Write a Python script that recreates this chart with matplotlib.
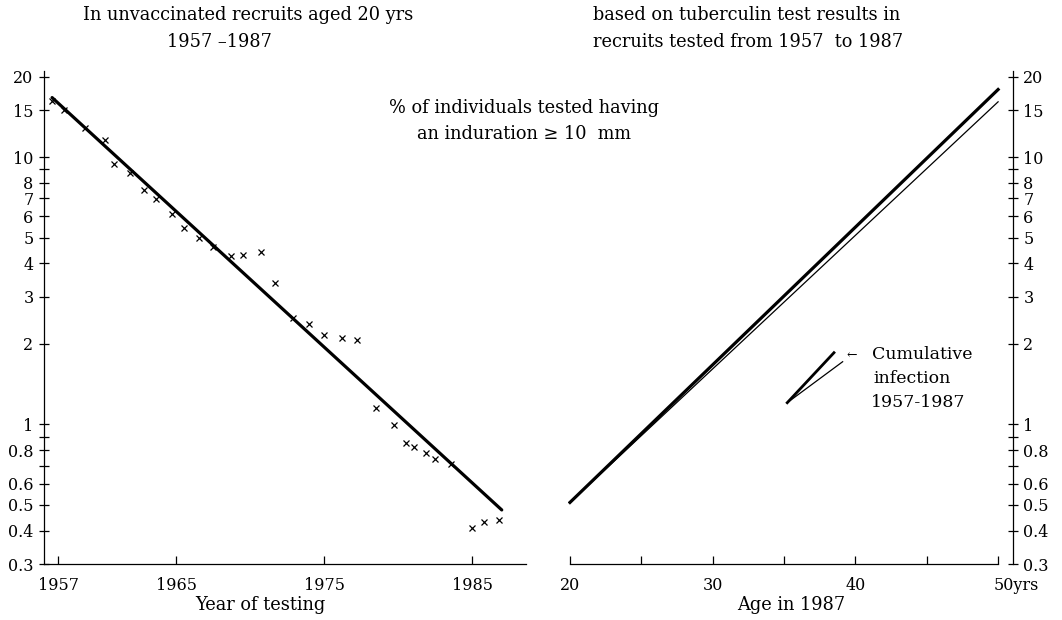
import matplotlib
matplotlib.use('Agg')
import matplotlib.pyplot as plt
import matplotlib.transforms as mtransforms
from matplotlib.lines import Line2D
from matplotlib.ticker import FixedLocator, FixedFormatter, NullLocator

plt.rcParams['font.family'] = ['DejaVu Serif']

# left: % of unvaccinated 20-yr-old recruits with induration >= 10 mm, by year of testing
years = [1956.6, 1957.4, 1958.8, 1960.2, 1960.8, 1961.9, 1962.8, 1963.6, 1964.7, 1965.5,
         1966.5, 1967.5, 1968.7, 1969.5, 1970.7, 1971.7, 1972.9, 1974.0, 1975.0, 1976.2,
         1977.2, 1978.5, 1979.7, 1980.5, 1981.1, 1981.9, 1982.5, 1983.6, 1985.0, 1985.8, 1986.8]
pct_tested = [16.2, 14.96, 12.85, 11.62, 9.45, 8.72, 7.55, 6.97, 6.14, 5.41,
              4.98, 4.61, 4.27, 4.29, 4.40, 3.39, 2.50, 2.37, 2.16, 2.11,
              2.06, 1.15, 0.99, 0.85, 0.82, 0.78, 0.74, 0.71, 0.41, 0.43, 0.44]
fit_years = [1956.6, 1987.0]
fit_pct = [16.7, 0.478]

# right: cumulative infection 1957-1987 by age in 1987
ages = [20, 50]
cum_thick = [0.51, 17.9]
cum_thin = [0.51, 16.1]

y_ticks = [0.3, 0.4, 0.5, 0.6, 0.7, 0.8, 0.9, 1, 2, 3, 4, 5, 6, 7, 8, 9, 10, 15, 20]
y_labels = ['0.3', '0.4', '0.5', '0.6', '', '0.8', '', '1', '2', '3', '4', '5', '6', '7', '8', '', '10', '15', '20']
year_ticks = [1957, 1965, 1975, 1985]
age_ticks = [20, 25, 30, 35, 40, 45, 50]
age_labels = ['20', '', '30', '', '40', '', '50yrs']

fig = plt.figure(figsize=(10.62, 6.2), dpi=100)
ax_l = fig.add_axes([0.0414, 0.0903, 0.4539, 0.7952])
ax_r = fig.add_axes([0.5348, 0.0903, 0.4190, 0.7952])

# ---- left panel
ax_l.plot(fit_years, fit_pct, color='black', lw=2.3, solid_capstyle='round')
ax_l.plot(years, pct_tested, ls='none', marker='x', ms=5, mew=0.9, color='black')

# ---- right panel
ax_r.plot(ages, cum_thick, color='black', lw=2.3)
ax_r.plot(ages, cum_thin, color='black', lw=0.9)

for ax in (ax_l, ax_r):
    ax.set_yscale('log')
    ax.set_ylim(0.3, 21)
    ax.yaxis.set_major_locator(FixedLocator(y_ticks))
    ax.yaxis.set_major_formatter(FixedFormatter(y_labels))
    ax.yaxis.set_minor_locator(NullLocator())
    ax.spines['top'].set_visible(False)
    ax.tick_params(axis='y', direction='inout', length=7, width=0.9, labelsize=11.5)
    ax.tick_params(axis='x', direction='in', length=6, width=0.9, labelsize=11.5, pad=9)
    for s in ax.spines.values():
        s.set_linewidth(0.9)

ax_l.spines['right'].set_visible(False)
ax_l.set_xlim(1956.05, 1988.64)
ax_l.set_xticks(year_ticks)
ax_l.set_xticklabels([str(y) for y in year_ticks])
ax_l.tick_params(axis='y', pad=4)

ax_r.spines['left'].set_visible(False)
ax_r.set_xlim(19.86, 51.04)
ax_r.spines['bottom'].set_bounds(20, 50)
ax_r.set_xticks(age_ticks)
ax_r.set_xticklabels(age_labels)
ax_r.yaxis.tick_right()
ax_r.tick_params(axis='y', pad=4)
# "50yrs" sits a little to the right of its tick
last = ax_r.get_xticklabels()[-1]
last.set_transform(last.get_transform() + mtransforms.ScaledTranslation(18 / 100, 0, fig.dpi_scale_trans))

# key for the right panel
ax_r.add_line(Line2D([0.4928, 0.5978], [0.3272, 0.4286], transform=ax_r.transAxes, color='black', lw=2.0))
ax_r.add_line(Line2D([0.4928, 0.6173], [0.3272, 0.4103], transform=ax_r.transAxes, color='black', lw=0.9))
ax_r.text(0.627, 0.424, '\u2190', transform=ax_r.transAxes, fontsize=9, va='center', ha='left')
ax_r.text(0.6825, 0.424, 'Cumulative', transform=ax_r.transAxes, fontsize=12.5, va='center', ha='left')
ax_r.text(0.6876, 0.3767, 'infection', transform=ax_r.transAxes, fontsize=12.5, va='center', ha='left')
ax_r.text(0.680, 0.3272, '1957-1987', transform=ax_r.transAxes, fontsize=12.5, va='center', ha='left')

# titles and labels
fs = 12.8
fig.text(0.2335, 0.9758, 'In unvaccinated recruits aged 20 yrs', ha='center', va='center', fontsize=fs)
fig.text(0.207, 0.9327, '1957 \u20131987', ha='center', va='center', fontsize=fs)
fig.text(0.5584, 0.9758, 'based on tuberculin test results in', ha='left', va='center', fontsize=fs)
fig.text(0.5584, 0.9327, 'recruits tested from 1957  to 1987', ha='left', va='center', fontsize=fs)
fig.text(0.4934, 0.8258, '% of individuals tested having', ha='center', va='center', fontsize=fs)
fig.text(0.4934, 0.7839, 'an induration \u2265 10  mm', ha='center', va='center', fontsize=fs)
fig.text(0.2448, 0.024, 'Year of testing', ha='center', va='center', fontsize=fs)
fig.text(0.7448, 0.024, 'Age in 1987', ha='center', va='center', fontsize=fs)

fig.savefig('out.png', dpi=100)
